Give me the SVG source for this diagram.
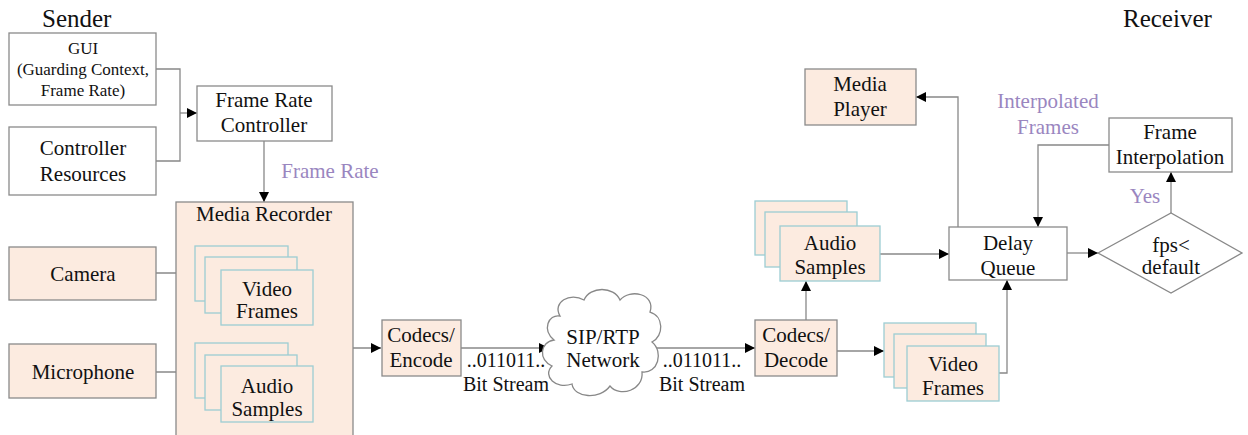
<svg xmlns="http://www.w3.org/2000/svg" width="1248" height="435" viewBox="0 0 1248 435">
<defs>
<marker id="arr" viewBox="0 0 10 10" refX="10" refY="5" markerWidth="10" markerHeight="10" markerUnits="userSpaceOnUse" orient="auto">
<path d="M0,0 L10,5 L0,10 Z" fill="#000"/>
</marker>
<style>
text{font-family:"Times New Roman",Tinos,"Liberation Serif","Noto Serif","DejaVu Serif",Times,serif;fill:#111;text-anchor:middle}
.t{font-size:21px}
.b{font-size:20px}
.s{font-size:17px}
.h{font-size:25px;text-anchor:start}
.p{fill:#9a86bf;font-size:21px}
.w{fill:#fff;stroke:#8a8a8a;stroke-width:1.3}
.f{fill:#fcebe0;stroke:#8a8a8a;stroke-width:1.3}
.k{fill:#fcebe0;stroke:#9ccdd3;stroke-width:1.3}
.c{fill:none;stroke:#888;stroke-width:1.3}
.a{fill:none;stroke:#888;stroke-width:1.3;marker-end:url(#arr)}
</style>
</defs>
<text class="h" x="42" y="27">Sender</text>
<text class="h" x="1123" y="27">Receiver</text>

<g id="connectors">
<path class="c" d="M156,69 H180 V161 H156"/>
<path class="a" d="M180,113 H197"/>
<path class="a" d="M264,141 V202"/>
<path class="a" d="M156,273 H195"/>
<path class="a" d="M156,372 H195"/>
<path class="c" d="M313,298 H337 V384 H313"/>
<path class="a" d="M337,348 H381"/>
<path class="a" d="M461,348 H549"/>
<path class="a" d="M655,348 H755"/>
<path class="a" d="M806,320 V281"/>
<path class="a" d="M837,351 H884"/>
<path class="a" d="M880,254 H949"/>
<path class="a" d="M999,373 H1007 V280"/>
<path class="a" d="M958,227 V97 H916"/>
<path class="a" d="M1067,253 H1098"/>
<path class="a" d="M1171,213 V172"/>
<path class="a" d="M1109,145 H1038 V227"/>
<text class="p" x="330" y="178">Frame Rate</text>
<text class="b" x="506" y="367">..011011..</text>
<text class="b" x="506" y="391">Bit Stream</text>
<text class="b" x="702" y="367">..011011..</text>
<text class="b" x="702" y="391">Bit Stream</text>
<text class="p" x="1048" y="108">Interpolated</text>
<text class="p" x="1048" y="134">Frames</text>
<text class="p" x="1145" y="203">Yes</text>
</g>

<g id="gui">
<rect class="w" x="9" y="33" width="147" height="72"/>
<text class="s" x="83" y="54">GUI</text>
<text class="s" x="83" y="75">(Guarding Context,</text>
<text class="s" x="83" y="96">Frame Rate)</text>
</g>
<g id="controller-resources">
<rect class="w" x="9" y="127" width="147" height="68"/>
<text class="t" x="83" y="155">Controller</text>
<text class="t" x="83" y="181">Resources</text>
</g>
<g id="frame-rate-controller">
<rect class="w" x="197" y="86" width="135" height="55"/>
<text class="t" x="264" y="107">Frame Rate</text>
<text class="t" x="264" y="132">Controller</text>
</g>
<g id="camera">
<rect class="f" x="9" y="247" width="147" height="53"/>
<text class="t" x="83" y="281">Camera</text>
</g>
<g id="microphone">
<rect class="f" x="9" y="344" width="147" height="54"/>
<text class="t" x="83" y="379">Microphone</text>
</g>
<g id="media-recorder">
<rect class="f" x="176" y="202" width="177" height="240"/>
<text class="t" x="264" y="221">Media Recorder</text>
</g>
<g id="sender-video-frames">
<rect class="k" x="195" y="246" width="93" height="55"/>
<rect class="k" x="205" y="257" width="92" height="56"/>
<rect class="k" x="221" y="270" width="92" height="55"/>
<text class="t" x="267" y="296">Video</text>
<text class="t" x="267" y="318">Frames</text>
</g>
<g id="sender-audio-samples">
<rect class="k" x="195" y="343" width="93" height="55"/>
<rect class="k" x="205" y="355" width="92" height="55"/>
<rect class="k" x="221" y="366" width="92" height="56"/>
<text class="t" x="267" y="393">Audio</text>
<text class="t" x="267" y="416">Samples</text>
</g>
<g id="codecs-encode">
<rect class="f" x="382" y="320" width="79" height="56"/>
<text class="t" x="421" y="342">Codecs/</text>
<text class="t" x="421" y="367">Encode</text>
</g>
<g id="network">
<path d="M560,316 C552,302 570,292 584,300 C590,286 614,286 620,300 C630,288 656,294 650,312 C664,316 664,336 652,342 C664,352 658,374 642,372 C644,390 620,398 610,386 C600,400 574,398 572,384 C556,390 542,376 552,366 C538,360 540,342 554,340 C542,330 548,314 560,316 Z" fill="#fff" stroke="#888" stroke-width="1.3"/>
<text class="t" x="603" y="344">SIP/RTP</text>
<text class="t" x="603" y="367">Network</text>
</g>
<g id="codecs-decode">
<rect class="f" x="755" y="320" width="82" height="56"/>
<text class="t" x="796" y="342">Codecs/</text>
<text class="t" x="796" y="367">Decode</text>
</g>
<g id="receiver-audio-samples">
<rect class="k" x="755" y="201" width="92" height="54"/>
<rect class="k" x="765" y="212" width="92" height="55"/>
<rect class="k" x="780" y="226" width="100" height="55"/>
<text class="t" x="830" y="250">Audio</text>
<text class="t" x="830" y="274">Samples</text>
</g>
<g id="receiver-video-frames">
<rect class="k" x="884" y="323" width="92" height="54"/>
<rect class="k" x="894" y="334" width="92" height="54"/>
<rect class="k" x="907" y="346" width="92" height="55"/>
<text class="t" x="953" y="371">Video</text>
<text class="t" x="953" y="395">Frames</text>
</g>
<g id="delay-queue">
<rect class="w" x="949" y="227" width="118" height="53"/>
<text class="t" x="1008" y="250">Delay</text>
<text class="t" x="1008" y="275">Queue</text>
</g>
<g id="media-player">
<rect class="f" x="805" y="69" width="111" height="56"/>
<text class="t" x="860" y="91">Media</text>
<text class="t" x="860" y="116">Player</text>
</g>
<g id="decision">
<polygon points="1098,253 1171,213 1242,253 1171,293" fill="#fff" stroke="#888" stroke-width="1.3"/>
<text class="t" x="1171" y="252">fps&lt;</text>
<text class="t" x="1171" y="274">default</text>
</g>
<g id="frame-interpolation">
<rect class="w" x="1109" y="118" width="123" height="54"/>
<text class="t" x="1170" y="139">Frame</text>
<text class="t" x="1170" y="164">Interpolation</text>
</g>
</svg>
